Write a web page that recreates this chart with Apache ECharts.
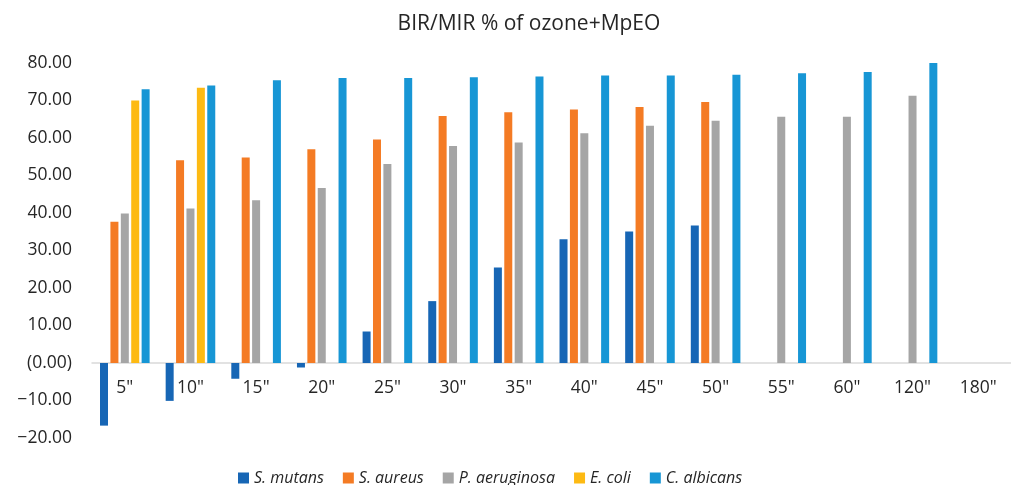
<!DOCTYPE html>
<html><head><meta charset="utf-8">
<script src="https://cdn.jsdelivr.net/npm/echarts@6/dist/echarts.min.js"></script>
<style>html,body{margin:0;padding:0;background:#fff}#c{width:1011px;height:485px}</style>
</head><body><div id="c"></div>
<script>
var categories = ['5"','10"','15"','20"','25"','30"','35"','40"','45"','50"','55"','60"','120"','180"'];
var sMutans = [-16.7,-10.1,-4.2,-1.2,8.4,16.5,25.5,33.0,35.1,36.7,null,null,null,null];
var sAureus = [37.7,54.1,54.8,57.0,59.6,65.9,66.9,67.6,68.3,69.6,null,null,null,null];
var pAeruginosa = [39.9,41.2,43.4,46.7,53.1,57.9,58.8,61.3,63.3,64.6,65.7,65.7,71.3,null];
var eColi = [70.0,73.4,null,null,null,null,null,null,null,null,null,null,null,null];
var cAlbicans = [73.0,74.0,75.4,76.0,76.0,76.2,76.4,76.7,76.7,76.9,77.3,77.6,80.2,null];
var seriesNames = ['S. mutans','S. aureus','P. aeruginosa','E. coli','C. albicans'];
var colors = ['#1766B5','#F47B24','#A5A5A5','#FDBA13','#1796D5'];
var title = 'BIR/MIR % of ozone+MpEO';

var font = 'Open Sans';
var txt = '#262626';
var data = [sMutans,sAureus,pAeruginosa,eColi,cAlbicans];
var chart = echarts.init(document.getElementById('c'));
chart.setOption({
  animation:false,
  title:{text:title,left:524,textAlign:'center',top:9,textStyle:{fontFamily:font,fontSize:21,fontWeight:'normal',color:txt}},
  legend:{left:233,top:465,itemWidth:11,itemHeight:11,itemGap:19,icon:'rect',
    textStyle:{fontFamily:font,fontSize:16,fontStyle:'italic',color:txt}},
  grid:{left:92,right:0,top:63,bottom:47,containLabel:false},
  xAxis:[{type:'category',data:categories,
    axisLine:{onZero:true,lineStyle:{color:'#D9D9D9',width:1.5}},
    axisTick:{show:false},axisLabel:{show:false}},
   {type:'category',data:categories,position:'bottom',offset:-75,
    axisLine:{show:false},axisTick:{show:false},
    axisLabel:{margin:16,fontFamily:font,fontSize:17.5,color:txt}}],
  yAxis:{type:'value',min:-20,max:80,interval:10,
    splitLine:{show:false},axisLine:{show:false},axisTick:{show:false},
    axisLabel:{margin:20,fontFamily:font,fontSize:17.5,color:txt,
      formatter:function(v){ if(v===0) return '(0.00)'; return (v<0?'\u2212':'')+Math.abs(v).toFixed(2);} }},
  series:seriesNames.map(function(n,i){return {name:n,type:'bar',data:data[i],barWidth:8,barGap:'30%',
    xAxisIndex:0,itemStyle:{color:colors[i]}};})
});
</script></body></html>
